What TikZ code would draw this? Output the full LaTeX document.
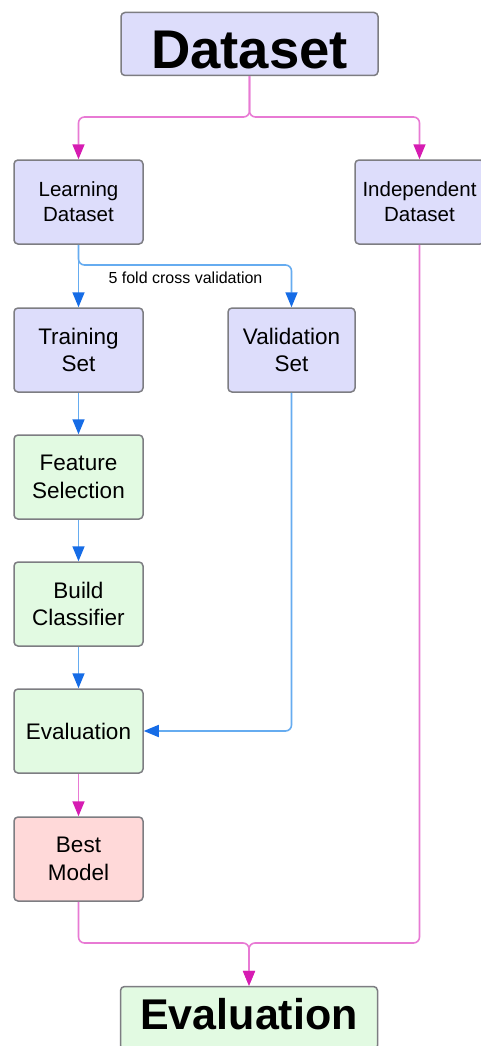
\documentclass[tikz,border=0pt]{standalone}
\usepackage{fontspec}
\setmainfont{Liberation Sans}
\usetikzlibrary{arrows.meta,calc}
\definecolor{boxlav}{RGB}{221,221,251}
\definecolor{boxgreen}{RGB}{226,250,226}
\definecolor{boxpink}{RGB}{255,217,217}
\definecolor{boxedge}{RGB}{125,125,130}
\definecolor{pinkline}{RGB}{232,122,212}
\definecolor{pinktip}{RGB}{214,28,178}
\definecolor{blueline}{RGB}{102,172,240}
\definecolor{bluetip}{RGB}{22,108,230}
\tikzset{
  box/.style={draw=boxedge, line width=1.5pt, rounded corners=4pt,
    align=center, inner sep=0pt, minimum width=129pt, minimum height=84pt,
    font=\fontsize{22.5}{27.5}\selectfont},
  smallbox/.style={box, font=\fontsize{20.5}{25}\selectfont},
  bigbox/.style={box, minimum width=257pt, minimum height=63pt},
  pinkarrow/.style={draw=pinkline, line width=1.6pt, rounded corners=6pt,
    -{Triangle[length=15pt,width=12pt,color=pinktip]}},
  bluearrow/.style={draw=blueline, line width=1.6pt, rounded corners=6pt,
    -{Triangle[length=15pt,width=12pt,color=bluetip]}},
}
\begin{document}
\begin{tikzpicture}[x=1pt,y=-1pt]
\useasboundingbox (0,0) rectangle (481,1046);
\clip (0,0) rectangle (481,1046);
\fill[white] (0,0) rectangle (481,1046);

% boxes
\node[bigbox, fill=boxlav, font=\fontsize{54.5}{60}\selectfont\bfseries,
  text height=49pt, text depth=0pt] (ds) at (249.5,44) {Dataset};
\node[smallbox, fill=boxlav] (ld) at (78.5,202) {Learning\\Dataset};
\node[smallbox, fill=boxlav] (ind) at (419.5,202) {Independent\\Dataset};
\node[box, fill=boxlav] (ts) at (78.5,350) {Training\\Set};
\node[box, fill=boxlav, minimum width=127pt] (vs) at (291.5,350) {Validation\\Set};
\node[box, fill=boxgreen] (fs) at (78.5,477) {Feature\\Selection};
\node[box, fill=boxgreen] (bc) at (78.5,604) {Build\\Classifier};
\node[box, fill=boxgreen] (ev) at (78.5,731) {Evaluation};
\node[box, fill=boxpink] (bm) at (78.5,859) {Best\\Model};
\node[bigbox, fill=boxgreen, font=\fontsize{43}{48}\selectfont\bfseries,
  text height=31pt, text depth=8pt] (fe) at (249,1018) {Evaluation};

% junction points
\coordinate (split) at (249.5,117);
\coordinate (cvturn) at (78.5,265);
\coordinate (merge) at (249,943);

% split of the dataset
\draw[pinkarrow] (ds.south) -- (split) -| (ld.north);
\draw[pinkarrow] (ds.south) -- (split) -| (ind.north);

% cross validation
\draw[bluearrow] (ld.south) -- (ts.north);
\draw[bluearrow] (ld.south) -- (cvturn) -| (vs.north);
\node[font=\fontsize{16}{18}\selectfont] (cvlabel) at (185.5,278) {5 fold cross validation};

% training chain
\draw[bluearrow] (ts.south) -- (fs.north);
\draw[bluearrow] (fs.south) -- (bc.north);
\draw[bluearrow] (bc.south) -- (ev.north);
\draw[bluearrow] (vs.south) |- (ev.east);
\draw[pinkarrow] (ev.south) -- (bm.north);

% final evaluation
\draw[pinkarrow] (bm.south) |- (merge) -- (fe.north);
\draw[pinkarrow] (ind.south) |- (merge) -- (fe.north);
\end{tikzpicture}
\end{document}
